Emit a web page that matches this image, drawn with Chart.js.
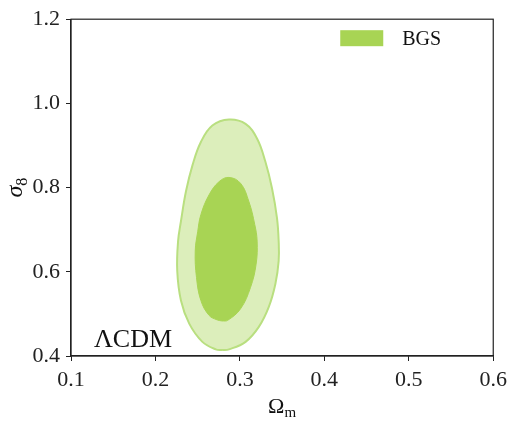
<!DOCTYPE html>
<html>
<head>
<meta charset="utf-8">
<script src="https://cdn.jsdelivr.net/npm/chart.js@4.4.1/dist/chart.umd.min.js"></script>
<style>
  html, body { margin: 0; padding: 0; background: #fff; }
  #wrap { width: 513px; height: 423px; }
</style>
</head>
<body>
<div id="wrap"><canvas id="chart" width="513" height="423"></canvas></div>
<script>
// --- data ---
const xTicks = [0.1, 0.2, 0.3, 0.4, 0.5, 0.6];
const yTicks = [0.4, 0.6, 0.8, 1.0, 1.2];

// 95% contour (outer), closed loop starting at its lowest point
const outerOmegaM = [0.2792, 0.2871, 0.3067, 0.3224, 0.3341, 0.3420, 0.3459, 0.3459, 0.3439, 0.3380, 0.3302, 0.3204, 0.3067, 0.2871, 0.2674, 0.2538, 0.2439, 0.2361, 0.2302, 0.2268, 0.2258, 0.2302, 0.2400, 0.2556, 0.2714, 0.2792];
const outerSigma8 = [0.4141, 0.4158, 0.4336, 0.4691, 0.5160, 0.5711, 0.6259, 0.6729, 0.7278, 0.7984, 0.8612, 0.9160, 0.9513, 0.9616, 0.9475, 0.9082, 0.8534, 0.7906, 0.7200, 0.6729, 0.6024, 0.5318, 0.4769, 0.4336, 0.4158, 0.4141];

// 68% contour (inner), closed loop starting at its lowest point
const innerOmegaM = [0.2792, 0.2855, 0.3008, 0.3126, 0.3192, 0.3204, 0.3176, 0.3106, 0.3008, 0.2871, 0.2753, 0.2635, 0.2538, 0.2500, 0.2471, 0.2486, 0.2538, 0.2635, 0.2729, 0.2792];
const innerSigma8 = [0.4831, 0.4847, 0.5122, 0.5631, 0.6181, 0.6729, 0.7122, 0.7671, 0.8101, 0.8242, 0.8141, 0.7828, 0.7358, 0.6950, 0.6494, 0.5866, 0.5318, 0.4965, 0.4859, 0.4831];

const legendLabel = 'BGS';
const modelLabel = '\u039BCDM';

const SERIF = '"Liberation Serif", "DejaVu Serif", serif';
const green = '#a8d454';
const greenLight = 'rgba(168, 212, 84, 0.4)';
const greenEdge = '#b9df80';

function toPoints(xs, ys) {
    return xs.map((x, i) => ({ x: x, y: ys[i] }));
}

// box round the plot, legend, labels with subscripts
const decorations = {
    id: 'decorations',
    afterDraw(chart) {
        const { ctx, chartArea: a } = chart;
        ctx.save();
        // frame
        ctx.strokeStyle = '#222';
        ctx.lineWidth = 1.2;
        ctx.strokeRect(a.left, a.top, a.right - a.left, a.bottom - a.top);

        // legend
        ctx.fillStyle = green;
        ctx.fillRect(a.right - 153, a.top + 11, 43, 16);
        ctx.fillStyle = '#111';
        ctx.font = '20px ' + SERIF;
        ctx.textBaseline = 'alphabetic';
        ctx.textAlign = 'left';
        ctx.fillText(legendLabel, a.right - 91, a.top + 26);

        // model label
        ctx.font = '26px ' + SERIF;
        ctx.fillText(modelLabel, a.left + 23, a.bottom - 9);

        // x title: Omega_m
        const cx = (a.left + a.right) / 2;
        ctx.font = '22px ' + SERIF;
        const wOm = ctx.measureText('\u03A9').width;
        ctx.font = '15px ' + SERIF;
        const wM = ctx.measureText('m').width;
        let x0 = cx - (wOm + wM) / 2;
        ctx.font = '22px ' + SERIF;
        ctx.fillText('\u03A9', x0, 413);
        ctx.font = '15px ' + SERIF;
        ctx.fillText('m', x0 + wOm, 417);

        // y title: sigma_8
        const cy = (a.top + a.bottom) / 2;
        ctx.translate(22, cy);
        ctx.rotate(-Math.PI / 2);
        ctx.font = 'italic 24px ' + SERIF;
        const wS = ctx.measureText('\u03C3').width;
        ctx.font = '16px ' + SERIF;
        const w8 = ctx.measureText('8').width;
        x0 = -(wS + w8) / 2;
        ctx.font = 'italic 24px ' + SERIF;
        ctx.fillText('\u03C3', x0, 0);
        ctx.font = '16px ' + SERIF;
        ctx.fillText('8', x0 + wS, 5);
        ctx.restore();
    }
};

new Chart(document.getElementById('chart').getContext('2d'), {
    type: 'scatter',
    data: {
        datasets: [
            {
                label: legendLabel + ' 68%',
                data: toPoints(innerOmegaM, innerSigma8),
                showLine: true,
                fill: 'shape',
                backgroundColor: green,
                borderColor: green,
                borderWidth: 1,
                tension: 0.4,
                pointRadius: 0
            },
            {
                label: legendLabel + ' 95%',
                data: toPoints(outerOmegaM, outerSigma8),
                showLine: true,
                fill: 'shape',
                backgroundColor: greenLight,
                borderColor: greenEdge,
                borderWidth: 2,
                tension: 0.4,
                pointRadius: 0
            }
        ]
    },
    options: {
        responsive: false,
        animation: false,
        layout: { padding: { top: 16, right: 16, left: 0, bottom: 0 } },
        plugins: {
            legend: { display: false },
            tooltip: { enabled: false }
        },
        scales: {
            x: {
                type: 'linear',
                min: 0.1,
                max: 0.6,
                afterFit: (s) => { s.height = 67; },
                afterBuildTicks: (s) => { s.ticks = xTicks.map(v => ({ value: v })); },
                border: { display: true, color: '#222', width: 1.2 },
                grid: { drawOnChartArea: false, drawTicks: true, tickLength: 5, tickColor: '#222' },
                ticks: {
                    color: '#222',
                    padding: 6,
                    maxRotation: 0,
                    font: { family: SERIF, size: 22 },
                    callback: (v) => v.toFixed(1)
                }
            },
            y: {
                type: 'linear',
                min: 0.4,
                max: 1.2,
                afterFit: (s) => { s.width = 71; },
                afterBuildTicks: (s) => { s.ticks = yTicks.map(v => ({ value: v })); },
                border: { display: true, color: '#222', width: 1.2 },
                grid: { drawOnChartArea: false, drawTicks: true, tickLength: 5, tickColor: '#222' },
                ticks: {
                    color: '#222',
                    padding: 6,
                    font: { family: SERIF, size: 22 },
                    callback: (v) => v.toFixed(1)
                }
            }
        }
    },
    plugins: [decorations]
});
</script>
</body>
</html>
